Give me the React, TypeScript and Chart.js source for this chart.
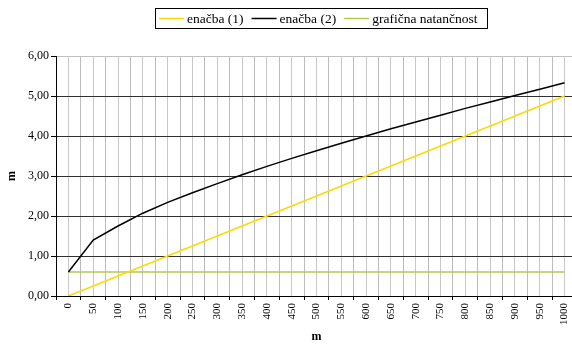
import React, { useEffect, useRef } from "react";
import { Chart, registerables } from "chart.js";

Chart.register(...registerables);

// distances along the x axis (m)
const distances = [0, 50, 100, 150, 200, 250, 300, 350, 400, 450, 500, 550, 600, 650, 700, 750, 800, 850, 900, 950, 1000];
// enačba (1)
const equation1 = [0, 0.25, 0.5, 0.75, 1.0, 1.25, 1.5, 1.75, 2.0, 2.25, 2.5, 2.75, 3.0, 3.25, 3.5, 3.75, 4.0, 4.25, 4.5, 4.75, 5.0];
// enačba (2)
const equation2 = [0.6, 1.4, 1.75, 2.07, 2.34, 2.58, 2.81, 3.03, 3.24, 3.44, 3.63, 3.82, 4.0, 4.18, 4.35, 4.52, 4.69, 4.85, 5.01, 5.17, 5.33];
// grafična natančnost
const graphicPrecision = [0.6, 0.6, 0.6, 0.6, 0.6, 0.6, 0.6, 0.6, 0.6, 0.6, 0.6, 0.6, 0.6, 0.6, 0.6, 0.6, 0.6, 0.6, 0.6, 0.6, 0.6];

const seriesNames = ["enačba (1)", "enačba (2)", "grafična natančnost"];
const seriesColors = ["#FFD800", "#000000", "#B2CA4C"];
const xAxisTitle = "m";
const yAxisTitle = "m";

const FONT = '"Liberation Serif", "Times New Roman", serif';

const boxLegend = {
  id: "boxLegend",
  afterDraw(chart: any) {
    const ctx = chart.ctx;
    ctx.save();
    ctx.strokeStyle = "#000";
    ctx.lineWidth = 1;
    ctx.strokeRect(155.5, 8.5, 332, 20);
    ctx.font = `13.5px ${FONT}`;
    ctx.textBaseline = "middle";
    ctx.textAlign = "left";
    let x = 159;
    const y = 18.5;
    chart.data.datasets.forEach((ds: any) => {
      ctx.strokeStyle = ds.borderColor;
      ctx.lineWidth = 1.5;
      ctx.beginPath();
      ctx.moveTo(x, y);
      ctx.lineTo(x + 25, y);
      ctx.stroke();
      x += 28;
      ctx.fillStyle = "#000";
      ctx.fillText(ds.label, x, y + 1);
      x += ctx.measureText(ds.label).width + 8;
    });
    ctx.restore();
  },
};

export default function App() {
  const canvasRef = useRef<HTMLCanvasElement | null>(null);

  useEffect(() => {
    const canvas = canvasRef.current;
    if (!canvas) return;
    const series = [equation1, equation2, graphicPrecision];
    const chart = new Chart(canvas, {
      type: "line",
      data: {
        datasets: series.map((vals, i) => ({
          label: seriesNames[i],
          data: distances.map((d, j) => ({ x: d, y: vals[j] })),
          borderColor: seriesColors[i],
          backgroundColor: seriesColors[i],
          borderWidth: 1.5,
          pointRadius: 0,
          tension: 0,
          fill: false,
        })),
      },
      options: {
        animation: false,
        responsive: false,
        maintainAspectRatio: false,
        devicePixelRatio: 1,
        layout: { padding: { top: 56, right: 3, left: 0, bottom: 0 } },
        plugins: {
          legend: { display: false },
          tooltip: { enabled: false },
        },
        scales: {
          x: {
            type: "linear",
            min: -25,
            max: 1025,
            afterFit: (scale: any) => {
              scale.height = 53;
              scale.paddingLeft = 0;
              scale.paddingRight = 0;
            },
            border: { display: true, color: "#000", width: 1 },
            grid: {
              color: (ctx: any) => {
                const v = ctx.tick ? ctx.tick.value : 0;
                if (v === -25) return "#000";
                return v % 50 === 0 ? "#c8c8c8" : "#bcbcbc";
              },
              tickColor: (ctx: any) => {
                const v = ctx.tick ? ctx.tick.value : 0;
                return v % 50 === 0 ? "rgba(0,0,0,0)" : "#000";
              },
              tickLength: 4,
              lineWidth: 1,
            },
            ticks: {
              stepSize: 25,
              autoSkip: false,
              maxRotation: 90,
              minRotation: 90,
              padding: 3,
              color: "#000",
              font: { family: FONT, size: 11 },
              callback: (v: any) => (Number(v) % 50 === 0 && Number(v) >= 0 ? String(v) : ""),
            },
            title: {
              display: true,
              text: xAxisTitle,
              color: "#000",
              font: { family: FONT, size: 12, weight: "bold" },
              padding: { top: 5, bottom: 5 },
            },
          },
          y: {
            type: "linear",
            min: 0,
            max: 6,
            afterFit: (scale: any) => {
              scale.width = 56;
            },
            border: { display: true, color: "#000", width: 1 },
            grid: {
              color: (ctx: any) => {
                const v = ctx.tick ? ctx.tick.value : 0;
                return v === 6 ? "#c0c0c0" : "#303030";
              },
              tickColor: "#000",
              tickLength: 5,
              lineWidth: 1,
            },
            ticks: {
              stepSize: 1,
              padding: 2,
              color: "#000",
              font: { family: FONT, size: 12 },
              callback: (v: any) => Number(v).toFixed(2).replace(".", ","),
            },
            title: {
              display: true,
              text: yAxisTitle,
              color: "#000",
              font: { family: FONT, size: 12, weight: "bold" },
              padding: { top: 5, bottom: 5 },
            },
          },
        },
      },
      plugins: [boxLegend],
    } as any);
    return () => chart.destroy();
  }, []);

  return (
    <div
      style={{
        position: "fixed",
        left: 0,
        top: 0,
        width: 572,
        height: 349,
        overflow: "hidden",
        background: "#fff",
      }}
    >
      <canvas ref={canvasRef} width={580} height={349} style={{ width: 580, height: 349, display: "block" }} />
    </div>
  );
}
